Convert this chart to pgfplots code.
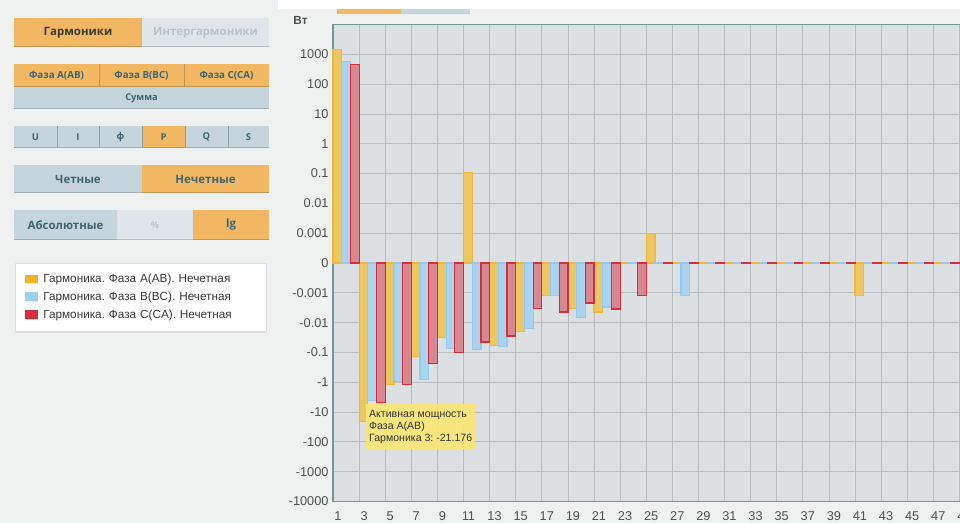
\documentclass[border=0pt]{standalone}
\usepackage{fontspec}
\setmainfont{Liberation Sans}
\newfontfamily\btnfont{Open Sans}
\usepackage{pgfplots}
\pgfplotsset{compat=1.18}
\usepackage{pgfplotstable}
\usetikzlibrary{shadows}

\definecolor{pagebg}{HTML}{EFF0F0}
\definecolor{plotbg}{HTML}{DCE0E3}
\definecolor{gridc}{HTML}{B7BFC3}
\definecolor{axisc}{HTML}{719A97}
\definecolor{tickc}{HTML}{505050}
\definecolor{btnOr}{HTML}{F2B762}
\definecolor{btnBl}{HTML}{C6D5DB}
\definecolor{btnLt}{HTML}{DFE5E8}
\definecolor{txtDk}{HTML}{3B3B30}
\definecolor{txtBl}{HTML}{3E6670}
\definecolor{txtLt}{HTML}{B7C4CA}
\definecolor{barA}{HTML}{EDC862}
\definecolor{barAd}{HTML}{F0B93C}
\definecolor{barB}{HTML}{A9D3EE}
\definecolor{barBd}{HTML}{92CBEF}
\definecolor{barC}{HTML}{D88690}
\definecolor{barCd}{HTML}{D22F40}
\definecolor{legA}{HTML}{F2B22E}
\definecolor{legB}{HTML}{9ED0EE}
\definecolor{legC}{HTML}{D3303F}
\definecolor{tipc}{HTML}{FCE676}

% active power per odd harmonic, W (a = phase A, b = phase B, c = phase C)
\pgfplotstableread{
h  a        b        c
1  1445     575      445
3  -21.176  -4.2     -4.8
5  -1.2     -0.93    -1.2
7  -0.14    -0.81    -0.24
9  -0.032   -0.075   -0.1
11 0.11     -0.081   -0.045
13 -0.06    -0.065   -0.028
15 -0.02    -0.016   -0.0034
17 -0.0012  -0.0012  -0.0044
19 -0.0034  -0.0067  -0.0022
21 -0.0044  -0.003   -0.0035
23 0        0        -0.0012
25 0.001    0        0
27 0        -0.0012  0
29 0        0        0
31 0        0        0
33 0        0        0
35 0        0        0
37 0        0        0
39 0        0        0
41 -0.0012  0        0
43 0        0        0
45 0        0        0
47 0        0        0
49 0        0        0
}\harm

% button: x1 y1 x2 y2 (pixels from top left), fill, text colour, text, size
\newcommand\btn[8]{%
  \fill[#5] (#1,523-#4) rectangle (#3,523-#2);
  \draw[#5!82!black, line width=1bp] (#1,523-#4+0.5) -- (#3,523-#4+0.5);
  \node[text=#6, font=\btnfont\bfseries\fontsize{#8}{#8}\selectfont]
    at ({(#1+#3)/2},{523-(#2+#4)/2}) {#7};}

\begin{document}
\frenchspacing
\begin{tikzpicture}[x=1bp,y=1bp]
\fill[pagebg] (0,0) rectangle (960,523);
\fill[white] (278,514) rectangle (960,523);
\fill[btnOr] (337,509) rectangle (401,514);
\fill[btnBl] (401,509) rectangle (470,514);

% left control panel
\btn{14}{18}{142}{47}{btnOr}{txtDk}{Гармоники}{11.5}
\btn{142}{18}{269}{47}{btnLt}{txtLt}{Интергармоники}{11.5}
\btn{14}{64}{99}{87}{btnOr}{txtBl}{Фаза A(AB)}{9.8}
\btn{99}{64}{184}{87}{btnOr}{txtBl}{Фаза B(BC)}{9.8}
\btn{184}{64}{269}{87}{btnOr}{txtBl}{Фаза C(CA)}{9.8}
\draw[btnOr!80!black] (99,523-64) -- (99,523-87) (184,523-64) -- (184,523-87);
\btn{14}{87}{269}{109}{btnBl}{txtBl}{Сумма}{9.3}
\btn{14}{126}{57}{148}{btnBl}{txtBl}{U}{9.5}
\btn{57}{126}{99}{148}{btnBl}{txtBl}{I}{9.5}
\btn{99}{126}{142}{148}{btnBl}{txtBl}{ф}{9.5}
\btn{142}{126}{185}{148}{btnOr}{txtBl}{P}{9.5}
\btn{185}{126}{228}{148}{btnBl}{txtBl}{Q}{9.5}
\btn{228}{126}{269}{148}{btnBl}{txtBl}{S}{9.5}
\draw[btnBl!75!black] (57,523-126) -- (57,523-148) (99,523-126) -- (99,523-148)
  (142,523-126) -- (142,523-148) (185,523-126) -- (185,523-148) (228,523-126) -- (228,523-148);
\btn{14}{165}{142}{193}{btnBl}{txtBl}{Четные}{11.5}
\btn{142}{165}{269}{193}{btnOr}{txtBl}{Нечетные}{11.5}
\btn{14}{210}{117}{240}{btnBl}{txtBl}{Абсолютные}{11.5}
\btn{117}{210}{193}{240}{btnLt}{txtLt}{\%}{9}
\btn{193}{210}{269}{240}{btnOr}{txtBl}{lg}{11.5}

\node[font=\bfseries\fontsize{11.8}{13}\selectfont, text=tickc] at (300.5,503) {Вт};

\begin{axis}[
  at={(333bp,260bp)}, anchor=origin,
  scale only axis, width=652.5bp, height=477bp,
  xmin=0, xmax=50, ymin=-8, ymax=8,
  axis background/.style={fill=plotbg},
  axis line style={draw=axisc, line width=1.3bp},
  tick style={draw=none}, major tick length=0pt, minor tick length=0pt,
  ytick={-8,...,8},
  yticklabels={-10000,-1000,-100,-10,-1,-0.1,-0.01,-0.001,0,0.001,0.01,0.1,1,10,100,1000,{}},
  xtick={0.38,2.38,...,48.5},
  xticklabels={1,3,5,7,9,11,13,15,17,19,21,23,25,27,29,31,33,35,37,39,41,43,45,47,49},
  minor xtick={0,2,...,50},
  ymajorgrids, xminorgrids, xmajorgrids=false,
  grid style={draw=gridc, line width=0.8bp},
  minor grid style={draw=gridc, line width=0.8bp},
  ticklabel style={font=\fontsize{12.8}{14}\selectfont, text=tickc},
  yticklabel style={xshift=-1bp},
  xticklabel style={yshift=-7bp},
  clip=false,
  y filter/.expression={(y<0 ? -1 : 1)*max(log10(max(abs(y),0.0001))+4,0)},
  legend style={at={(-0.4874,0.501)}, anchor=north west, fill=white,
    draw=black!12, inner xsep=10bp, inner ysep=9.5bp, row sep=3.8bp,
    drop shadow={opacity=0.12, shadow xshift=0bp, shadow yshift=-1.5bp},
    font=\fontsize{11.8}{13}\selectfont, text=black!78,
    /tikz/every odd column/.append style={column sep=3bp}},
  legend cell align=left,
]
\addplot[ybar, bar width=0.6667, bar shift=-0.6667, fill=barA, draw=barAd, line width=1.2bp,
  legend image code/.code={\fill[legA] (0bp,-3.5bp) rectangle (12bp,4bp);}]
  table[x=h, y=a] {\harm};
\addlegendentry[text width=211bp]{Гармоника. Фаза A(AB). Нечетная}
\addplot[ybar, bar width=0.6667, bar shift=0, fill=barB, draw=barBd, line width=1.2bp,
  legend image code/.code={\fill[legB] (0bp,-3.5bp) rectangle (12bp,4bp);}]
  table[x=h, y=b] {\harm};
\addlegendentry[text width=211bp]{Гармоника. Фаза B(BC). Нечетная}
\addplot[ybar, bar width=0.6667, bar shift=0.6667, fill=barC, draw=barCd, line width=1.2bp,
  legend image code/.code={\fill[legC] (0bp,-3.5bp) rectangle (12bp,4bp);}]
  table[x=h, y=c] {\harm};
\addlegendentry[text width=211bp]{Гармоника. Фаза C(CA). Нечетная}
\end{axis}

% tooltip for harmonic 3, phase A
\fill[tipc, opacity=0.92] (366,523-449) rectangle (475,523-404);
\node[anchor=west, align=left, inner sep=0pt, text=black!80,
  font=\fontsize{10.6}{12.2}\selectfont] at (369,523-427)
  {Активная мощность\\Фаза A(AB)\\Гармоника 3: -21.176};

\pgfresetboundingbox
\useasboundingbox (0,0) rectangle (960,523);
\end{tikzpicture}
\end{document}
